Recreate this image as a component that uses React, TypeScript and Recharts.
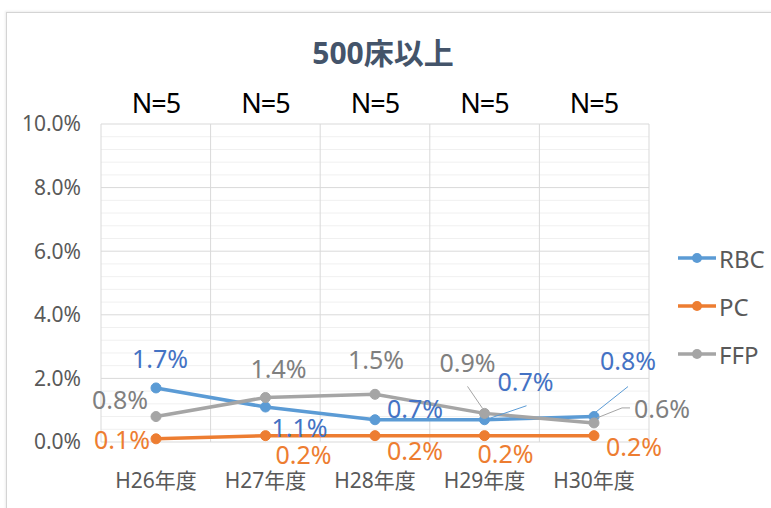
import React from 'react';
import { LineChart, Line, XAxis, YAxis, CartesianGrid, Legend, LabelList } from 'recharts';

const years = ['H26年度', 'H27年度', 'H28年度', 'H29年度', 'H30年度'];
const counts = [5, 5, 5, 5, 5];
const rbc = [1.7, 1.1, 0.7, 0.7, 0.8];
const pc = [0.1, 0.2, 0.2, 0.2, 0.2];
const ffp = [0.8, 1.4, 1.5, 0.9, 0.6];
const seriesOrder = ['RBC', 'PC', 'FFP'];
const yTicks = [0, 2, 4, 6, 8, 10];
const minorGrid = [0.4, 0.8, 1.2, 1.6, 2.4, 2.8, 3.2, 3.6, 4.4, 4.8, 5.2, 5.6, 6.4, 6.8, 7.2, 7.6, 8.4, 8.8, 9.2, 9.6];

const data = years.map((year, i) => ({ year, RBC: rbc[i], PC: pc[i], FFP: ffp[i] }));

const FONT = "'Noto Sans', 'Noto Sans CJK JP', sans-serif";
const Y_MAX = 10;

// label nudges (px, relative to the point), like Excel's manually dragged labels
type Tweak = { dx: number; dy: number; leader?: number[] };
const rbcTweaks: Tweak[] = [
  { dx: 4, dy: -30 },
  { dx: 34, dy: 20 },
  { dx: 40, dy: -12 },
  { dx: 41, dy: -39, leader: [1, 0, 42, -14] },
  { dx: 34, dy: -57, leader: [0, -3, 34, -30] },
];
const pcTweaks: Tweak[] = [
  { dx: -34, dy: 0 },
  { dx: 38, dy: 18 },
  { dx: 40, dy: 14 },
  { dx: 21, dy: 17 },
  { dx: 40, dy: 10 },
];
const ffpTweaks: Tweak[] = [
  { dx: -36, dy: -18 },
  { dx: 13, dy: -29 },
  { dx: 1, dy: -35 },
  { dx: -17, dy: -51, leader: [-2, -5, -17, -27] },
  { dx: 68, dy: -15, leader: [3, -5, 28, -15, 36, -15] },
];

const makeLabel = (tweaks: Tweak[], color: string, leaderColor: string) => (props: any) => {
  const { x, y, value, index } = props;
  const t = tweaks[index];
  if (!t || x == null || y == null) return null;
  let pts = '';
  if (t.leader) {
    for (let i = 0; i < t.leader.length; i += 2) pts += `${x + t.leader[i]},${y + t.leader[i + 1]} `;
  }
  return (
    <g>
      {t.leader && <polyline points={pts} fill="none" stroke={leaderColor} strokeWidth={1} />}
      <text x={x + t.dx} y={y + t.dy} textAnchor="middle" dominantBaseline="central" fontSize={25} fill={color}>
        {Number(value).toFixed(1)}%
      </text>
    </g>
  );
};

const renderLegend = (props: any) => {
  const items = [...(props.payload || [])].sort(
    (a: any, b: any) => seriesOrder.indexOf(a.value) - seriesOrder.indexOf(b.value)
  );
  return (
    <svg width={95} height={140} style={{ overflow: 'visible' }}>
      {items.map((p: any, i: number) => {
        const cy = 10 + i * 48;
        return (
          <g key={p.value}>
            <line x1={2} x2={40} y1={cy} y2={cy} stroke={p.color} strokeWidth={3.5} />
            <circle cx={21} cy={cy} r={5} fill={p.color} />
            <text x={43} y={cy} dominantBaseline="central" fontSize={24} fill="#595959" fontFamily={FONT}>
              {p.value}
            </text>
          </g>
        );
      })}
    </svg>
  );
};

const categoryEdges = ({ offset }: any) =>
  years.map((_, i) => offset.left + (offset.width * i) / years.length).concat(offset.left + offset.width);

const valueLines = (vals: number[]) => ({ offset }: any) =>
  vals.map((v) => offset.top + offset.height * (1 - v / Y_MAX));

export default function App() {
  return (
    <div style={{ position: 'absolute', left: 0, top: 0, width: 771, height: 508, overflow: 'hidden', background: '#fff', fontFamily: FONT }}>
      <style>{'body{margin:0}'}</style>
      <div style={{ position: 'absolute', left: 6, top: 12, width: 800, height: 520, borderLeft: '1px solid #d4d4d4', borderTop: '1px solid #d4d4d4', boxShadow: '-1px -1px 2px #eeeeee' }} />
      <div style={{ position: 'absolute', left: 0, top: 37, width: 766, textAlign: 'center', fontSize: 30, lineHeight: '32px', fontWeight: 700, color: '#44546A' }}>
        500床以上
      </div>
      <div style={{ position: 'absolute', left: 0, top: 0 }}>
        <LineChart width={771} height={508} data={data} margin={{ top: 84, right: 122, bottom: 0, left: 0 }} style={{ fontFamily: FONT }}>
          <CartesianGrid stroke="#f0f0f0" vertical={false} horizontalCoordinatesGenerator={valueLines(minorGrid)} />
          <CartesianGrid stroke="#d9d9d9" verticalCoordinatesGenerator={categoryEdges} horizontalCoordinatesGenerator={valueLines(yTicks)} />
          <XAxis
            dataKey="year"
            padding={{ left: 55, right: 55 }}
            height={66}
            axisLine={false}
            tickLine={false}
            tickSize={0}
            tickMargin={31}
            tick={{ fontSize: 21, fill: '#595959' }}
          />
          <XAxis
            xAxisId="top"
            orientation="top"
            dataKey="year"
            padding={{ left: 55, right: 55 }}
            height={40}
            axisLine={false}
            tickLine={false}
            tickSize={0}
            tickMargin={11}
            tickFormatter={(_v: any, i: number) => `N=${counts[i]}`}
            tick={{ fontSize: 27, fill: '#000000', letterSpacing: -1 }}
          />
          <YAxis
            domain={[0, Y_MAX]}
            ticks={yTicks}
            width={101}
            axisLine={false}
            tickLine={false}
            tickSize={0}
            tickMargin={20}
            tickFormatter={(v: number) => `${v.toFixed(1)}%`}
            tick={{ fontSize: 21, fill: '#595959' }}
          />
          <Legend
            layout="vertical"
            align="center"
            verticalAlign="middle"
            wrapperStyle={{ left: 676, top: 248, width: 95, height: 140 }}
            content={renderLegend}
          />
          <Line dataKey="RBC" stroke="#5B9BD5" strokeWidth={3.5} dot={{ r: 5, fill: '#5B9BD5', stroke: '#5B9BD5', strokeWidth: 1 }} isAnimationActive={false}>
            <LabelList dataKey="RBC" content={makeLabel(rbcTweaks, '#4472C4', '#5B9BD5')} />
          </Line>
          <Line dataKey="PC" stroke="#ED7D31" strokeWidth={3.5} dot={{ r: 5, fill: '#ED7D31', stroke: '#ED7D31', strokeWidth: 1 }} isAnimationActive={false}>
            <LabelList dataKey="PC" content={makeLabel(pcTweaks, '#ED7D31', '#ED7D31')} />
          </Line>
          <Line dataKey="FFP" stroke="#A5A5A5" strokeWidth={3.5} dot={{ r: 5, fill: '#A5A5A5', stroke: '#A5A5A5', strokeWidth: 1 }} isAnimationActive={false}>
            <LabelList dataKey="FFP" content={makeLabel(ffpTweaks, '#7F7F7F', '#A5A5A5')} />
          </Line>
        </LineChart>
      </div>
    </div>
  );
}
